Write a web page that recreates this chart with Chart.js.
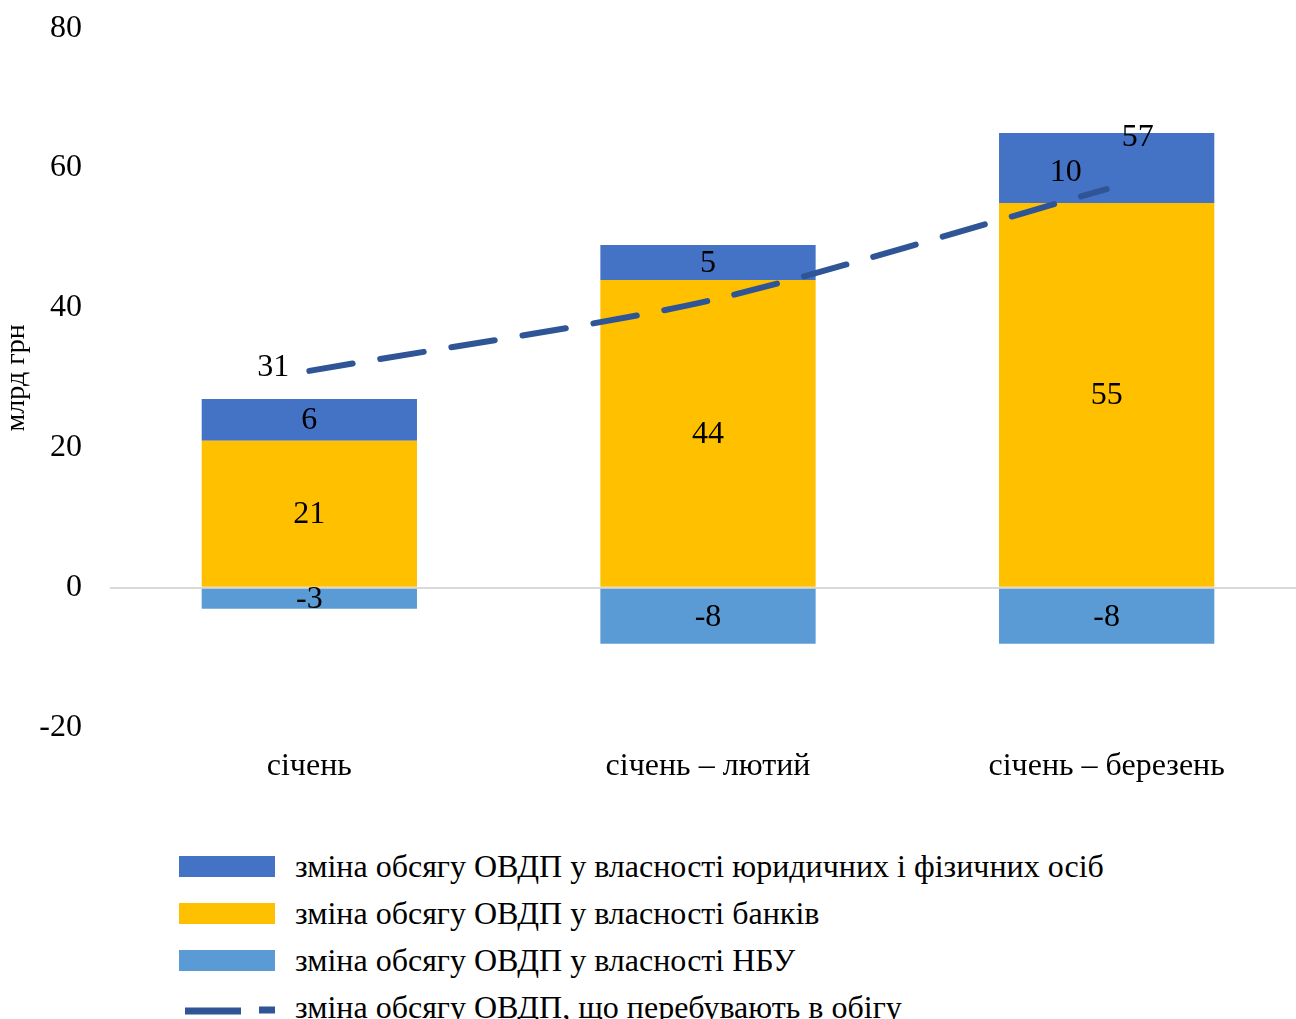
<!DOCTYPE html>
<html lang="uk">
<head>
<meta charset="utf-8">
<script src="https://cdn.jsdelivr.net/npm/chart.js@4"></script>
<style>
    html, body { margin: 0; padding: 0; background: #fff; overflow: hidden; }
    #wrap { position: relative; width: 1306px; height: 1019px; overflow: hidden; }
    #chartBox { position: absolute; left: 0; top: -19px; width: 1306px; height: 825px; }
    #legend { position: absolute; left: 179px; top: 843px; font-family: "Liberation Serif", "Times New Roman", serif; font-size: 32px; color: #000; }
    .lg-row { display: flex; align-items: center; height: 47px; }
    .lg-mark { width: 96px; height: 21px; margin-right: 20px; flex: none; }
</style>
</head>
<body>
<div id="wrap">
    <div id="chartBox"><canvas id="chart"></canvas></div>
    <div id="legend"></div>
</div>
<script>
// ===== 数据 =====
const categories = ['січень', 'січень – лютий', 'січень – березень'];
const legalPersons = [6, 5, 10];     // юридичні і фізичні особи
const banks = [21, 44, 55];          // банки
const nbu = [-3, -8, -8];            // НБУ
const inCirculation = [31, 41, 57];  // ОВДП в обігу
const yTicks = [-20, 0, 20, 40, 60, 80];

const nameLegal = 'зміна обсягу ОВДП у власності юридичних і фізичних осіб';
const nameBanks = 'зміна обсягу ОВДП у власності банків';
const nameNbu = 'зміна обсягу ОВДП у власності НБУ';
const nameLine = 'зміна обсягу ОВДП, що перебувають в обігу';

// 颜色
const colors = {
    legal: '#4472C4',
    banks: '#FFC000',
    nbu: '#5B9BD5',
    line: '#2F5597'
};

const FONT = '"Liberation Serif", "Times New Roman", serif';

// 标签偏移（仅样式），按数据集索引：0 银行，1 法人，2 НБУ，3 折线
const labelNudge = {
    1: { 2: [-41, 4] },
    3: { 0: [-36, -4], 1: null, 2: [31, -52] }
};

// 数据标签插件
const valueLabels = {
    id: 'valueLabels',
    afterDatasetsDraw(chart) {
        const ctx = chart.ctx;
        ctx.save();
        ctx.font = `32px ${FONT}`;
        ctx.fillStyle = '#000';
        ctx.textAlign = 'center';
        ctx.textBaseline = 'middle';
        chart.data.datasets.forEach((ds, di) => {
            const meta = chart.getDatasetMeta(di);
            meta.data.forEach((el, i) => {
                const nudge = labelNudge[di] && (i in labelNudge[di]) ? labelNudge[di][i] : [0, 0];
                if (nudge === null) return;
                let x = el.x, y = el.y;
                if (ds.type !== 'line') {
                    y = (el.y + el.base) / 2;
                }
                ctx.fillText(String(ds.data[i]), x + nudge[0], y + nudge[1] + 1);
            });
        });
        ctx.restore();
    }
};

const initChart = () => {
    const barCommon = {
        type: 'bar',
        stack: 'bars',
        categoryPercentage: 0.54,
        barPercentage: 1,
        borderWidth: 0,
        order: 1
    };
    return new Chart(document.getElementById('chart'), {
        data: {
            labels: categories,
            datasets: [
                { ...barCommon, label: nameBanks, data: banks, backgroundColor: colors.banks },
                { ...barCommon, label: nameLegal, data: legalPersons, backgroundColor: colors.legal },
                { ...barCommon, label: nameNbu, data: nbu, backgroundColor: colors.nbu },
                {
                    type: 'line',
                    label: nameLine,
                    data: inCirculation,
                    stack: 'line',
                    borderColor: colors.line,
                    borderWidth: 6,
                    borderDash: [44, 28],
                    borderCapStyle: 'round',
                    tension: 0.25,
                    pointRadius: 0,
                    fill: false,
                    order: 0
                }
            ]
        },
        options: {
            responsive: true,
            maintainAspectRatio: false,
            animation: false,
            layout: { padding: { top: 10, right: 0, bottom: 0, left: 0 } },
            plugins: {
                legend: { display: false },
                tooltip: { enabled: false }
            },
            scales: {
                x: {
                    stacked: true,
                    grid: { display: false, drawTicks: false },
                    border: { display: false },
                    ticks: { color: '#000', font: { family: FONT, size: 32 }, padding: 20 }
                },
                y: {
                    stacked: true,
                    min: -20,
                    max: 80,
                    afterBuildTicks: scale => { scale.ticks = yTicks.map(v => ({ value: v })); },
                    afterFit: scale => { scale.width = 110; },
                    grid: {
                        drawTicks: false,
                        color: c => c.tick && c.tick.value === 0 ? '#D9D9D9' : 'transparent',
                        lineWidth: 2
                    },
                    border: { display: false },
                    ticks: { color: '#000', font: { family: FONT, size: 32 }, padding: 28 },
                    title: {
                        display: true,
                        text: 'млрд грн',
                        color: '#000',
                        font: { family: FONT, size: 28 },
                        padding: 0
                    }
                }
            }
        },
        plugins: [valueLabels]
    });
};

// HTML 图例
const buildLegend = () => {
    const items = [
        [nameLegal, colors.legal],
        [nameBanks, colors.banks],
        [nameNbu, colors.nbu],
        [nameLine, null]
    ];
    const box = document.getElementById('legend');
    items.forEach(([name, fill]) => {
        const row = document.createElement('div');
        row.className = 'lg-row';
        const mark = fill
            ? `<div class="lg-mark" style="background:${fill}"></div>`
            : `<svg class="lg-mark" width="96" height="21"><line x1="6" y1="14" x2="62" y2="14" stroke="${colors.line}" stroke-width="7"/><line x1="80" y1="13" x2="96" y2="13" stroke="${colors.line}" stroke-width="7"/></svg>`;
        row.innerHTML = `${mark}<span>${name}</span>`;
        box.appendChild(row);
    });
};

buildLegend();
initChart();
</script>
</body>
</html>
